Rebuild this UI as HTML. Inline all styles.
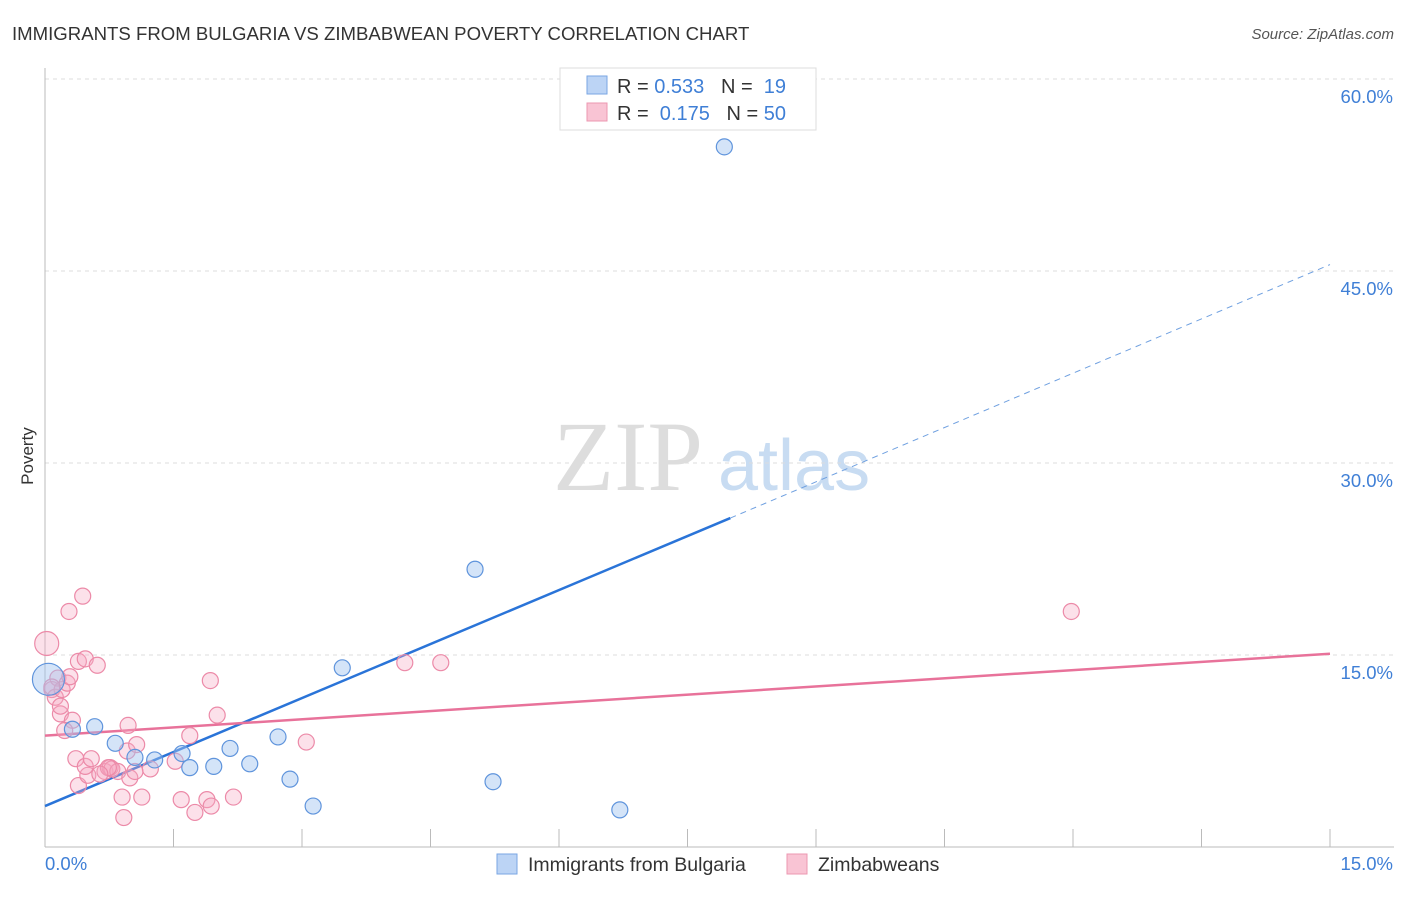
<!DOCTYPE html>
<html><head><meta charset="utf-8"><style>
body{margin:0;background:#fff;font-family:"Liberation Sans",sans-serif;}
svg text{font-family:"Liberation Sans",sans-serif;}
svg text.serif{font-family:"Liberation Serif",serif;}
</style></head><body>
<svg id="chart" width="1406" height="892">
<text x="12" y="40" font-size="18.6" fill="#333">IMMIGRANTS FROM BULGARIA VS ZIMBABWEAN POVERTY CORRELATION CHART</text>
<text x="1394" y="39" font-size="15" fill="#555" text-anchor="end" font-style="italic">Source: ZipAtlas.com</text>
<text x="33" y="456" font-size="17" fill="#333" transform="rotate(-90 33 456)" text-anchor="middle">Poverty</text>
<g><text class="serif" x="553" y="490" font-size="100" fill="#ddd">ZIP</text><text x="718" y="490" font-size="72" fill="#c8dcf2">atlas</text></g>
<g id="grid"></g><g id="axes"></g><g id="lines"></g><g id="pts"></g>
<g>
<rect x="560" y="68" width="256" height="62" fill="#fff" stroke="#ddd"/>
<rect x="587" y="76" width="20" height="18" fill="#bcd4f5" stroke="#7aa6e3"/>
<rect x="587" y="103" width="20" height="18" fill="#f9c4d4" stroke="#ec97b1"/>
<text x="617" y="93" font-size="20" fill="#333">R = <tspan fill="#3f7fd6">0.533</tspan>&#160;&#160;&#160;N = &#160;<tspan fill="#3f7fd6">19</tspan></text>
<text x="617" y="120" font-size="20" fill="#333">R = &#160;<tspan fill="#3f7fd6">0.175</tspan>&#160;&#160;&#160;N = <tspan fill="#3f7fd6">50</tspan></text>
</g>
<g>
<rect x="497" y="854" width="20" height="20" fill="#bcd4f5" stroke="#7aa6e3"/>
<text x="528" y="871" font-size="19.5" fill="#333">Immigrants from Bulgaria</text>
<rect x="787" y="854" width="20" height="20" fill="#f9c4d4" stroke="#ec97b1"/>
<text x="818" y="871" font-size="19.5" fill="#333">Zimbabweans</text>
</g>
</svg>
<script>
const yTicks=[15,30,45,60];
const yTickLabels=["15.0%","30.0%","45.0%","60.0%"];
const xTicks=[0,1.5,3,4.5,6,7.5,9,10.5,12,13.5,15];
const bulgariaX=[0.04,0.32,0.58,0.82,1.05,1.28,1.6,1.69,1.97,2.16,2.39,2.72,2.86,3.13,3.47,5.02,5.23,6.71,7.93];
const bulgariaY=[13.1,9.2,9.4,8.1,7.0,6.8,7.3,6.2,6.3,7.7,6.5,8.6,5.3,3.2,14.0,21.7,5.1,2.9,54.7];
const zimX=[0.02,0.08,0.12,0.15,0.2,0.26,0.29,0.18,0.28,0.44,0.32,0.23,0.39,0.47,0.61,0.36,0.39,0.5,0.47,0.54,0.7,0.76,0.78,0.85,0.9,0.92,0.96,0.97,0.99,1.07,1.13,1.23,1.52,1.59,1.69,1.75,1.89,1.93,1.94,2.01,2.2,3.05,4.2,4.62,11.98,0.74,0.64,0.18,0.08,1.05];
const zimY=[15.9,12.3,11.7,13.2,12.3,12.8,13.3,10.4,18.4,19.6,9.9,9.1,14.5,14.7,14.2,6.9,4.8,5.6,6.3,6.9,5.9,6.2,6.1,5.9,3.9,2.3,7.5,9.5,5.4,8.0,3.9,6.1,6.7,3.7,8.7,2.7,3.7,13.0,3.2,10.3,3.9,8.2,14.4,14.4,18.4,6.2,5.7,11.0,12.5,5.9];
const bulgariaLine=[[0,3.2],[8.0,25.7],[15,45.5]];
const zimLine=[[0,8.7],[15,15.1]];
const X=v=>45+v*(1330-45)/15, Y=v=>847-v*(847-79)/60;
const NS='http://www.w3.org/2000/svg';
function mk(tag,attrs,parent){const e=document.createElementNS(NS,tag);for(const k in attrs)e.setAttribute(k,attrs[k]);document.getElementById(parent).appendChild(e);return e;}
yTicks.forEach((t,i)=>{
 const g=mk('line',{x1:45,x2:1394,y1:Y(t),y2:Y(t),stroke:'#ddd','stroke-dasharray':'4 4'},'grid');
 
 
 const l=mk('text',{x:1393,y:Y(t)+24,'font-size':18.5,fill:'#3f7fd6','text-anchor':'end'},'grid');
 l.textContent=yTickLabels[i];
 
 
});
const ax=mk('line',{x1:45,x2:45,y1:68,y2:847,stroke:'#bbb'},'axes');


const bx=mk('line',{x1:45,x2:1394,y1:847,y2:847,stroke:'#bbb'},'axes');


xTicks.forEach(t=>{const e=mk('line',{x1:X(t),x2:X(t),y1:829,y2:847,stroke:'#bbb'},'axes');
 
 });
const x0=mk('text',{x:45,y:870,'font-size':18.5,fill:'#3f7fd6'},'axes');x0.textContent='0.0%';


const x1=mk('text',{x:1393,y:870,'font-size':18.5,fill:'#3f7fd6','text-anchor':'end'},'axes');x1.textContent='15.0%';


const bl1=mk('line',{x1:X(bulgariaLine[0][0]),y1:Y(bulgariaLine[0][1]),x2:X(bulgariaLine[1][0]),y2:Y(bulgariaLine[1][1]),stroke:'#2a74d8','stroke-width':2.5},'lines');


const bl2=mk('line',{x1:X(bulgariaLine[1][0]),y1:Y(bulgariaLine[1][1]),x2:X(bulgariaLine[2][0]),y2:Y(bulgariaLine[2][1]),stroke:'#6fa0e0','stroke-width':1,'stroke-dasharray':'6 5'},'lines');


const zl=mk('line',{x1:X(zimLine[0][0]),y1:Y(zimLine[0][1]),x2:X(zimLine[1][0]),y2:Y(zimLine[1][1]),stroke:'#e8729a','stroke-width':2.5},'lines');


zimX.forEach((v,i)=>{const c=mk('circle',{cx:X(v),cy:Y(zimY[i]),r:i==0?12:8,fill:'rgba(246,170,195,0.35)',stroke:'#ec8aa8','stroke-width':1.2},'pts');
 
 });
bulgariaX.forEach((v,i)=>{const c=mk('circle',{cx:X(v),cy:Y(bulgariaY[i]),r:i==0?16:8,fill:'rgba(160,195,240,0.45)',stroke:'#5f94dc','stroke-width':1.2},'pts');
 
 });
</script>
</body></html>
